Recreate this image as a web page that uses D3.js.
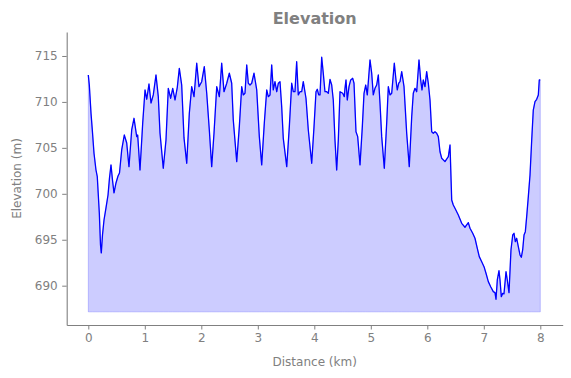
<!DOCTYPE html>
<html>
<head>
<meta charset="utf-8">
<script src="https://cdn.jsdelivr.net/npm/d3@7"></script>
<style>
  body { margin: 0; background: #fff; }
  text { font-family: 'DejaVu Sans', sans-serif; }
</style>
</head>
<body>
<svg class="chart" width="571" height="378"></svg>
<script>
// distance along the track (km) and elevation (m)
const distance = [0.000,0.018,0.048,0.071,0.101,0.136,0.159,0.195,0.216,0.230,
  0.251,0.278,0.313,0.349,0.375,0.402,0.428,0.455,0.490,0.526,
  0.552,0.591,0.637,0.680,0.720,0.768,0.809,0.857,0.874,0.915,
  0.963,1.004,1.034,1.074,1.110,1.150,1.198,1.239,1.269,1.327,
  1.375,1.416,1.458,1.494,1.535,1.575,1.611,1.653,1.694,1.742,
  1.788,1.830,1.871,1.919,1.959,2.007,2.053,2.096,2.142,2.184,
  2.225,2.273,2.319,2.361,2.402,2.450,2.496,2.538,2.566,2.627,
  2.673,2.715,2.743,2.773,2.804,2.832,2.862,2.892,2.933,2.981,
  3.027,3.069,3.115,3.158,3.186,3.216,3.246,3.274,3.304,3.335,
  3.363,3.393,3.423,3.451,3.512,3.558,3.600,3.628,3.658,3.688,
  3.717,3.747,3.777,3.805,3.853,3.894,3.954,3.995,4.030,4.053,
  4.078,4.101,4.131,4.159,4.189,4.219,4.248,4.278,4.308,4.336,
  4.366,4.396,4.425,4.455,4.503,4.531,4.543,4.561,4.584,4.614,
  4.644,4.680,4.703,4.738,4.768,4.809,4.850,4.880,4.910,4.938,
  4.986,5.016,5.044,5.074,5.104,5.133,5.163,5.193,5.239,5.281,
  5.310,5.340,5.370,5.416,5.446,5.469,5.494,5.517,5.547,5.588,
  5.635,5.681,5.724,5.752,5.782,5.812,5.853,5.883,5.906,5.929,
  5.959,5.989,6.018,6.048,6.078,6.106,6.136,6.166,6.195,6.225,
  6.255,6.313,6.372,6.402,6.432,6.460,6.490,6.549,6.609,6.667,
  6.697,6.726,6.756,6.804,6.844,6.885,6.920,6.963,7.004,7.039,
  7.080,7.122,7.168,7.198,7.216,7.239,7.269,7.287,7.310,7.335,
  7.357,7.393,7.416,7.446,7.481,7.512,7.535,7.558,7.582,7.611,
  7.641,7.664,7.688,7.712,7.735,7.759,7.788,7.818,7.848,7.876,
  7.906,7.936,7.965,7.982,8.000]

const elevation = [712.93,711.84,708.76,706.95,704.41,702.59,701.86,697.91,694.43,693.56,
  695.52,697.15,698.46,699.87,701.72,703.14,701.50,700.09,701.18,701.94,
  702.27,704.77,706.40,705.53,702.95,706.95,708.22,706.22,706.40,702.59,
  707.71,711.30,710.29,711.95,709.88,710.76,712.93,710.57,706.62,702.78,
  705.86,711.48,710.40,711.48,710.21,711.59,713.66,711.84,706.08,703.32,
  708.76,711.66,710.57,714.21,711.66,712.20,713.84,710.94,706.95,702.95,
  706.62,711.66,710.57,714.21,711.11,712.03,713.12,712.03,708.03,703.50,
  707.31,711.66,710.76,710.94,714.02,712.03,711.84,712.03,713.12,711.30,
  706.22,703.14,707.68,711.30,710.57,710.76,714.02,711.30,712.20,711.11,
  712.03,712.20,709.48,706.04,702.95,707.31,712.03,711.11,711.11,714.38,
  710.76,711.11,711.11,712.20,710.40,706.95,703.32,707.31,711.11,711.38,
  710.76,710.76,714.86,713.12,711.11,711.11,710.94,712.46,711.84,710.21,
  705.86,702.59,705.86,711.11,710.94,710.57,711.48,712.39,710.21,711.66,
  712.39,712.57,712.03,706.76,706.22,703.14,707.31,710.94,711.84,710.76,
  714.57,713.12,710.76,711.48,711.84,712.93,709.85,706.22,702.78,707.68,
  711.66,710.76,710.94,714.21,712.39,711.30,712.03,712.20,713.29,711.66,
  706.62,702.95,708.39,710.94,711.48,711.11,714.57,712.39,711.30,712.39,
  711.66,713.29,712.03,710.21,706.76,706.59,706.76,706.59,706.22,704.58,
  703.87,703.50,704.04,705.31,699.33,698.78,698.42,697.69,696.79,696.36,
  696.61,696.86,696.25,695.70,695.16,694.07,693.16,692.61,692.07,691.35,
  690.44,689.89,689.35,689.24,688.52,690.62,691.63,690.62,688.80,689.17,
  689.10,691.52,690.62,689.24,693.89,695.52,695.70,694.79,695.16,694.24,
  693.34,693.09,693.89,695.52,695.88,697.51,699.69,702.05,705.86,709.12,
  710.03,710.29,710.76,712.39,712.39]

const xTicks = [0,1,2,3,4,5,6,7,8]
const yTicks = [690,695,700,705,710,715]
const fillBase = 687.15

const grey = '#808080'

const svg = d3.select('.chart')
const plotLeft = 66.7, plotRight = 562.7, plotTop = 32, plotBottom = 325

const x = d3.scaleLinear().domain([-0.3823, 8.3965]).range([plotLeft, plotRight])
const y = d3.scaleLinear().domain([685.72, 717.61]).range([plotBottom, plotTop])

const data = distance.map((d, i) => [d, elevation[i]])

// filled area under the profile
svg.append('path')
  .datum(data)
  .attr('d', d3.area().x(d => x(d[0])).y0(y(fillBase)).y1(d => y(d[1])))
  .attr('fill', 'blue')
  .attr('fill-opacity', 0.2)
  .attr('stroke', 'blue')
  .attr('stroke-opacity', 0.2)
  .attr('stroke-width', 1)

svg.append('path')
  .datum(data)
  .attr('d', d3.line().x(d => x(d[0])).y(d => y(d[1])))
  .attr('fill', 'none')
  .attr('stroke', 'blue')
  .attr('stroke-width', 1.3)
  .attr('stroke-linejoin', 'round')

// axes
svg.append('g')
  .attr('transform', `translate(0,${plotBottom})`)
  .call(d3.axisBottom(x).tickValues(xTicks).tickFormat(d3.format('d')).tickSize(4.5).tickSizeOuter(0).tickPadding(4))

svg.append('g')
  .attr('transform', `translate(${plotLeft},0)`)
  .call(d3.axisLeft(y).tickValues(yTicks).tickFormat(d3.format('d')).tickSize(4.5).tickSizeOuter(0).tickPadding(4.5))

svg.selectAll('.domain').attr('stroke', grey).attr('stroke-width', 1.1)
svg.selectAll('.tick line').attr('stroke', grey).attr('stroke-width', 1)
svg.selectAll('.tick text')
  .attr('fill', grey)
  .style('font-family', 'DejaVu Sans, sans-serif')
  .style('font-size', '12px')

// labels
svg.append('text')
  .attr('x', (plotLeft + plotRight) / 2)
  .attr('y', 366)
  .attr('text-anchor', 'middle')
  .attr('fill', grey)
  .style('font-size', '12px')
  .text('Distance (km)')

svg.append('text')
  .attr('transform', `translate(21,${(plotTop + plotBottom) / 2}) rotate(-90)`)
  .attr('text-anchor', 'middle')
  .attr('fill', grey)
  .style('font-size', '12px')
  .text('Elevation (m)')

svg.append('text')
  .attr('x', (plotLeft + plotRight) / 2)
  .attr('y', 24)
  .attr('text-anchor', 'middle')
  .attr('fill', grey)
  .style('font-size', '16px')
  .style('font-weight', 'bold')
  .text('Elevation')
</script>
</body>
</html>
